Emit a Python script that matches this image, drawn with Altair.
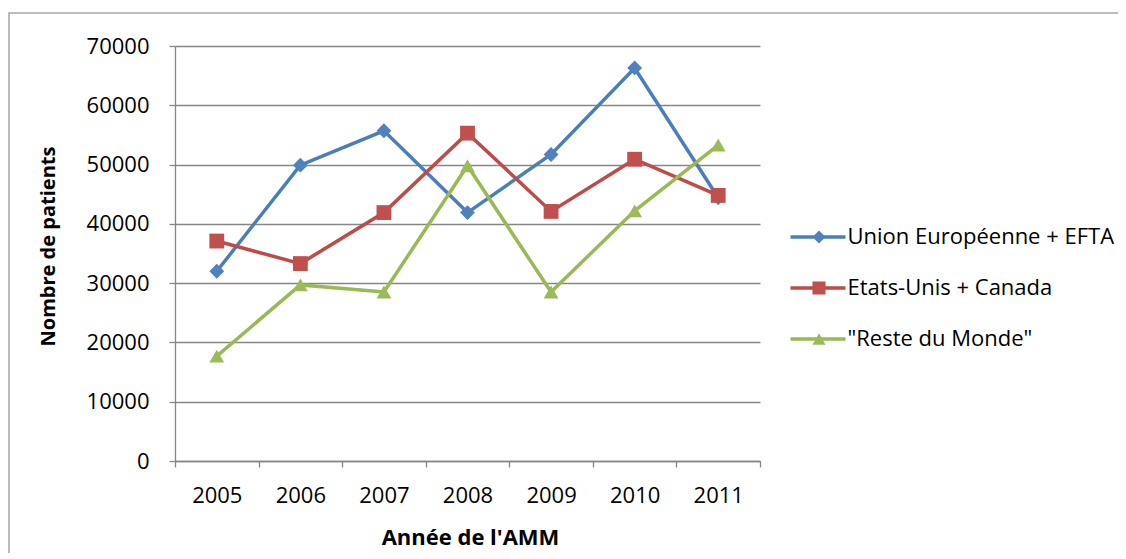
import altair as alt
import pandas as pd

years = ["2005", "2006", "2007", "2008", "2009", "2010", "2011"]
series = ["Union Européenne + EFTA", "Etats-Unis + Canada", '"Reste du Monde"']
ue_efta = [32000, 49900, 55700, 41900, 51700, 66300, 44400]
usa_canada = [37100, 33300, 41900, 55300, 42100, 50900, 44800]
reste_monde = [17700, 29700, 28500, 49800, 28500, 42200, 53300]

line_colors = ["#4A7EBB", "#BE4B48", "#98B954"]
marker_colors = ["#4F81BD", "#C0504D", "#9BBB59"]
shapes = ["diamond", "square", "triangle-up"]

rows = []
for s, vals in zip(series, [ue_efta, usa_canada, reste_monde]):
    for yr, v in zip(years, vals):
        rows.append({"annee": yr, "serie": s, "serie_m": s, "patients": v})
df = pd.DataFrame(rows)

FONT = "Open Sans"

x_enc = alt.X(
    "annee:O", title="Année de l'AMM", bandPosition=0.5,
    scale=alt.Scale(type="band", paddingInner=0, paddingOuter=0),
    axis=alt.Axis(labelAngle=0, tickBand="extent", tickSize=6, labelPadding=18,
                  grid=False, titleX=295, titleY=76, titleBaseline="middle",
                  titleAlign="center", titleFontSize=22),
)
y_enc = alt.Y(
    "patients:Q", title="Nombre de patients",
    scale=alt.Scale(domain=[0, 70000], nice=False),
    axis=alt.Axis(values=list(range(0, 70001, 10000)), format="d", tickSize=6,
                  labelPadding=20, grid=True, titleX=-127, titleY=200,
                  titleAngle=270, titleBaseline="middle", titleAlign="center",
                  titleFontSize=20),
)

legA = alt.Legend(title=None, orient="none", legendX=615, legendY=176,
                  symbolType="M-2,0H2", symbolSize=756, symbolStrokeWidth=3.5,
                  labelFontSize=22, labelFont=FONT, labelColor="black",
                  labelLimit=0, labelOffset=14, symbolOffset=12.5, rowPadding=21,
                  padding=0, clipHeight=30)
legB = alt.Legend(title=None, orient="none", legendX=633, legendY=176,
                  symbolSize=170, labelExpr="''", labelFontSize=22, labelFont=FONT,
                  rowPadding=21, padding=0, clipHeight=30)

base = alt.Chart(df)

lines = base.mark_line(strokeWidth=3.5).encode(
    x=x_enc, y=y_enc,
    stroke=alt.Stroke("serie:N", sort=series,
                      scale=alt.Scale(range=line_colors), legend=legA),
)

points = base.mark_point(filled=True, size=220, opacity=1).encode(
    x=x_enc, y=y_enc,
    color=alt.Color("serie_m:N",
                    scale=alt.Scale(domain=series, range=marker_colors), legend=legB),
    shape=alt.Shape("serie_m:N",
                    scale=alt.Scale(domain=series, range=shapes), legend=legB),
)

frame = alt.Chart(pd.DataFrame({"k": [0]})).mark_rect(
    fill="transparent", stroke="#A6A6A6", strokeWidth=1.5
).encode(x=alt.value(-166), y=alt.value(-33), x2=alt.value(990), y2=alt.value(600))

chart = alt.layer(frame, lines, points).properties(
    width=585, height=415,
    autosize=alt.AutoSizeParams(type="none"),
    padding={"left": 167, "top": 38, "right": 358, "bottom": 92},
).configure_view(stroke=None).configure_axis(
    domainColor="#868686", tickColor="#868686", gridColor="#868686",
    domainWidth=1.3, tickWidth=1.3, gridWidth=1.3,
    labelFont=FONT, labelFontSize=22, labelColor="black",
    titleFont=FONT, titleFontWeight="bold", titleColor="black",
)

chart.save("out.html", embed_options={"renderer": "svg", "actions": False})
